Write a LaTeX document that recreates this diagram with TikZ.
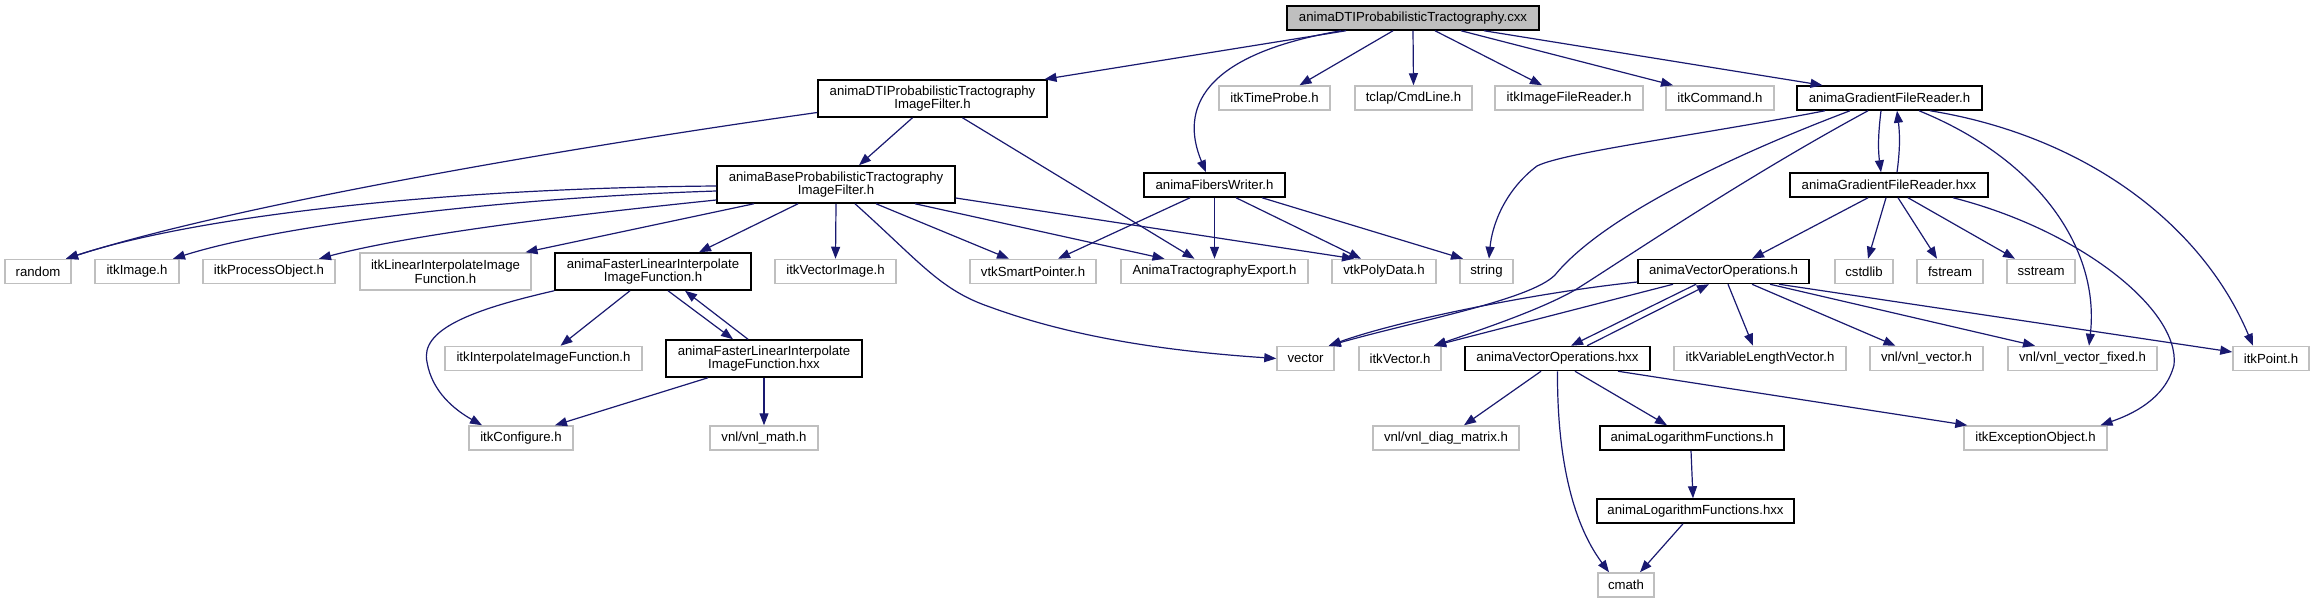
\documentclass[tikz,border=0pt]{standalone}
\usepackage{fontspec}
\setmainfont{Liberation Sans}
\usetikzlibrary{arrows.meta,calc}
\definecolor{edgec}{HTML}{191970}
\definecolor{greyb}{HTML}{BFBFBF}
\begin{document}
\begin{tikzpicture}[x=1pt,y=-1pt,
  font=\fontsize{13.2}{13.6}\selectfont,
  box/.style={rectangle,inner sep=0pt,align=center,line width=1.5pt,fill=white},
  doc/.style={box,draw=black},
  ext/.style={box,draw=greyb},
  rootn/.style={box,draw=black,fill=greyb},
  one/.style={minimum height=24pt},
  two/.style={minimum height=37pt},
  edge/.style={draw=edgec,line width=1.2pt,-{Triangle[length=12pt,width=9pt]}}]
\useasboundingbox[fill=white] (0,0) rectangle (2314,603);

% row 1
\node[rootn,one,minimum width=252pt] (root) at (1413,18) {animaDTIProbabilisticTractography.cxx};
% row 2
\node[doc,two,minimum width=229pt] (dti) at (932.5,98.5) {animaDTIProbabilisticTractography\\ImageFilter.h};
\node[ext,one,minimum width=111pt] (timeprobe) at (1274.5,98) {itkTimeProbe.h};
\node[ext,one,minimum width=117pt] (tclap) at (1413.5,98) {tclap/CmdLine.h};
\node[ext,one,minimum width=148pt] (imgreader) at (1569,98) {itkImageFileReader.h};
\node[ext,one,minimum width=108pt] (command) at (1720,98) {itkCommand.h};
\node[doc,one,minimum width=185pt] (gradh) at (1889.5,98) {animaGradientFileReader.h};
% row 3
\node[doc,two,minimum width=238pt] (base) at (836,184.5) {animaBaseProbabilisticTractography\\ImageFilter.h};
\node[doc,one,minimum width=141pt] (fibers) at (1214.5,185) {animaFibersWriter.h};
\node[doc,one,minimum width=198pt] (gradhxx) at (1889,185) {animaGradientFileReader.hxx};
% row 4
\node[ext,one,minimum width=66pt] (random) at (38,271.5) {random};
\node[ext,one,minimum width=84pt] (itkimage) at (137,271.5) {itkImage.h};
\node[ext,one,minimum width=132pt] (procobj) at (269,271.5) {itkProcessObject.h};
\node[ext,two,minimum width=171pt] (linint) at (445.5,271.5) {itkLinearInterpolateImage\\Function.h};
\node[doc,two,minimum width=196pt] (faster) at (653,271.5) {animaFasterLinearInterpolate\\ImageFunction.h};
\node[ext,one,minimum width=121pt] (vecimg) at (835.5,271.5) {itkVectorImage.h};
\node[ext,one,minimum width=126pt] (smartptr) at (1033,271.5) {vtkSmartPointer.h};
\node[ext,one,minimum width=187pt] (export) at (1214.5,271.5) {AnimaTractographyExport.h};
\node[ext,one,minimum width=104pt] (polydata) at (1384,271.5) {vtkPolyData.h};
\node[ext,one,minimum width=53pt] (string) at (1486.5,271.5) {string};
\node[doc,one,minimum width=171pt] (vecopsh) at (1723.5,271.5) {animaVectorOperations.h};
\node[ext,one,minimum width=58pt] (cstdlib) at (1864,271.5) {cstdlib};
\node[ext,one,minimum width=66pt] (fstream) at (1950,271.5) {fstream};
\node[ext,one,minimum width=68pt] (sstream) at (2041,271.5) {sstream};
% row 5
\node[ext,one,minimum width=197pt] (interp) at (543.5,358.5) {itkInterpolateImageFunction.h};
\node[doc,two,minimum width=196pt] (fasterhxx) at (764,358.5) {animaFasterLinearInterpolate\\ImageFunction.hxx};
\node[ext,one,minimum width=57pt] (vector) at (1305.5,358.5) {vector};
\node[ext,one,minimum width=82pt] (itkvector) at (1400,358.5) {itkVector.h};
\node[doc,one,minimum width=185pt] (vecopshxx) at (1557.5,358.5) {animaVectorOperations.hxx};
\node[ext,one,minimum width=172pt] (varlen) at (1760,358.5) {itkVariableLengthVector.h};
\node[ext,one,minimum width=113pt] (vnlvec) at (1926.5,358.5) {vnl/vnl\_vector.h};
\node[ext,one,minimum width=149pt] (vnlfixed) at (2082.5,358.5) {vnl/vnl\_vector\_fixed.h};
\node[ext,one,minimum width=76pt] (itkpoint) at (2271,358.5) {itkPoint.h};
% row 6
\node[ext,one,minimum width=104pt] (itkconfig) at (521,438) {itkConfigure.h};
\node[ext,one,minimum width=108pt] (vnlmath) at (764,438) {vnl/vnl\_math.h};
\node[ext,one,minimum width=146pt] (diag) at (1446,438) {vnl/vnl\_diag\_matrix.h};
\node[doc,one,minimum width=184pt] (logh) at (1692,438) {animaLogarithmFunctions.h};
\node[ext,one,minimum width=143pt] (exc) at (2035.5,438) {itkExceptionObject.h};
% row 7
\node[doc,one,minimum width=197pt] (loghxx) at (1695.5,511) {animaLogarithmFunctions.hxx};
% row 8
\node[ext,one,minimum width=56pt] (cmath) at (1626,585) {cmath};

% ---- edges from root
\draw[edge] ([xshift=-67pt]root.south) -- ([xshift=112pt]dti.north);
\draw[edge] ([xshift=-72pt]root.south) .. controls (1200,55) and (1180,110) .. ([xshift=-8.5pt]fibers.north);
\draw[edge] ([xshift=-20pt]root.south) -- ([xshift=25pt]timeprobe.north);
\draw[edge] (root.south) -- (tclap.north);
\draw[edge] ([xshift=22pt]root.south) -- ([xshift=-27pt]imgreader.north);
\draw[edge] ([xshift=48pt]root.south) -- ([xshift=-47pt]command.north);
\draw[edge] ([xshift=71pt]root.south) -- ([xshift=-67pt]gradh.north);

% ---- edges from dti
\draw[edge] ([xshift=-20pt]dti.south) -- ([xshift=23pt]base.north);
\draw[edge] ([xshift=30pt]dti.south) -- ([xshift=-20pt]export.north);
\draw[edge] ([yshift=-14pt]dti.west) .. controls (620,140) and (250,200) .. ([xshift=28pt]random.north);

% ---- edges from base
\draw[edge] ([yshift=-1.5pt]base.west) .. controls (450,188) and (200,215) .. ([xshift=28pt]random.north);
\draw[edge] ([yshift=-6.5pt]base.west) .. controls (500,198) and (280,225) .. ([xshift=36pt]itkimage.north);
\draw[edge] ([yshift=-15.5pt]base.west) .. controls (600,212) and (420,232) .. ([xshift=50pt]procobj.north);
\draw[edge] ([xshift=-82pt]base.south) -- ([xshift=80pt]linint.north);
\draw[edge] ([xshift=-38pt]base.south) -- ([xshift=46pt]faster.north);
\draw[edge] (base.south) -- (vecimg.north);
\draw[edge] ([xshift=19pt]base.south) .. controls (920,262) and (940,290) .. (990,307) .. controls (1080,340) and (1180,352) .. (vector.west);
\draw[edge] ([xshift=40pt]base.south) -- ([xshift=-24pt]smartptr.north);
\draw[edge] ([xshift=79pt]base.south) -- ([xshift=-50pt]export.north);
\draw[edge] ([yshift=-13.5pt]base.east) -- ([xshift=-30pt]polydata.north);

% ---- edges from faster / fasterhxx
\draw[edge] ([xshift=-23pt]faster.south) -- ([xshift=17pt]interp.north);
\draw[edge] ([xshift=15pt]faster.south) -- ([xshift=-31pt]fasterhxx.north);
\draw[edge] ([xshift=-16pt]fasterhxx.north) -- ([xshift=32pt]faster.south);
\draw[edge] (faster.south west) .. controls (470,310) and (420,330) .. (427,362) .. controls (432,392) and (455,410) .. ([xshift=-39pt]itkconfig.north);
\draw[edge] ([xshift=-56pt]fasterhxx.south) -- ([xshift=34pt]itkconfig.north);
\draw[edge] (fasterhxx.south) -- (vnlmath.north);

% ---- edges from fibers
\draw[edge] ([xshift=-24.5pt]fibers.south) -- ([xshift=25pt]smartptr.north);
\draw[edge] (fibers.south) -- (export.north);
\draw[edge] ([xshift=21.5pt]fibers.south) -- ([xshift=-23pt]polydata.north);
\draw[edge] ([xshift=47.5pt]fibers.south) -- ([xshift=-23.5pt]string.north);

% ---- edges from gradh
\draw[edge] ([xshift=-64.5pt]gradh.south) .. controls (1700,135) and (1565,152) .. (1537,166) .. controls (1505,190) and (1492,225) .. ([xshift=2.5pt]string.north);
\draw[edge] ([xshift=-39.5pt]gradh.south) .. controls (1720,160) and (1600,220) .. (1555,275) .. controls (1530,300) and (1420,320) .. ([xshift=-6pt]vector.north east);
\draw[edge] ([xshift=-21.5pt]gradh.south) .. controls (1740,180) and (1620,262) .. (1575,290) .. controls (1540,310) and (1480,330) .. ([xshift=34pt]itkvector.north);
\draw[edge] ([xshift=-8.5pt]gradh.south) .. controls (1878,135) and (1878,150) .. ([xshift=-8pt]gradhxx.north);
\draw[edge] ([xshift=8pt]gradhxx.north) .. controls (1900,150) and (1900,135) .. ([xshift=7.5pt]gradh.south);
\draw[edge] ([xshift=29.5pt]gradh.south) .. controls (2040,160) and (2100,250) .. ([xshift=6.5pt]vnlfixed.north);
\draw[edge] ([xshift=40.5pt]gradh.south) .. controls (2080,135) and (2200,220) .. ([xshift=-18pt]itkpoint.north);

% ---- edges from gradhxx
\draw[edge] ([xshift=-21pt]gradhxx.south) -- ([xshift=28.5pt]vecopsh.north);
\draw[edge] ([xshift=-3pt]gradhxx.south) -- ([xshift=4pt]cstdlib.north);
\draw[edge] ([xshift=9pt]gradhxx.south) -- ([xshift=-13pt]fstream.north);
\draw[edge] ([xshift=19pt]gradhxx.south) -- ([xshift=-26pt]sstream.north);
\draw[edge] ([xshift=64pt]gradhxx.south) .. controls (2080,230) and (2180,310) .. (2174,365) .. controls (2165,400) and (2130,415) .. ([xshift=65pt]exc.north);

% ---- edges from vecopsh
\draw[edge] ([yshift=-10.5pt]vecopsh.west) .. controls (1540,292) and (1400,320) .. ([xshift=-6pt]vector.north east);
\draw[edge] ([xshift=-50.5pt]vecopsh.south) -- ([xshift=34pt]itkvector.north);
\draw[edge] ([xshift=-27.5pt]vecopsh.south) -- ([xshift=13.5pt]vecopshxx.north);
\draw[edge] ([xshift=29.5pt]vecopshxx.north) -- ([xshift=-14.5pt]vecopsh.south);
\draw[edge] ([xshift=4.5pt]vecopsh.south) -- ([xshift=-7pt]varlen.north);
\draw[edge] ([xshift=28.5pt]vecopsh.south) -- ([xshift=-31pt]vnlvec.north);
\draw[edge] ([xshift=46.5pt]vecopsh.south) -- ([xshift=-47.5pt]vnlfixed.north);
\draw[edge] ([xshift=55.5pt]vecopsh.south) -- ([yshift=6.5pt]itkpoint.west);

% ---- edges from vecopshxx
\draw[edge] ([xshift=-16.5pt]vecopshxx.south) -- ([xshift=18pt]diag.north);
\draw[edge] (vecopshxx.south) .. controls (1557,450) and (1570,520) .. ([xshift=-17pt]cmath.north);
\draw[edge] ([xshift=17.5pt]vecopshxx.south) -- ([xshift=-25pt]logh.north);
\draw[edge] ([xshift=60.5pt]vecopshxx.south) -- ([xshift=4pt]exc.north west);

% ---- log functions
\draw[edge] ([xshift=-1pt]logh.south) -- ([xshift=-2.5pt]loghxx.north);
\draw[edge] ([xshift=-12.5pt]loghxx.south) -- ([xshift=14pt]cmath.north);
\end{tikzpicture}
\end{document}
